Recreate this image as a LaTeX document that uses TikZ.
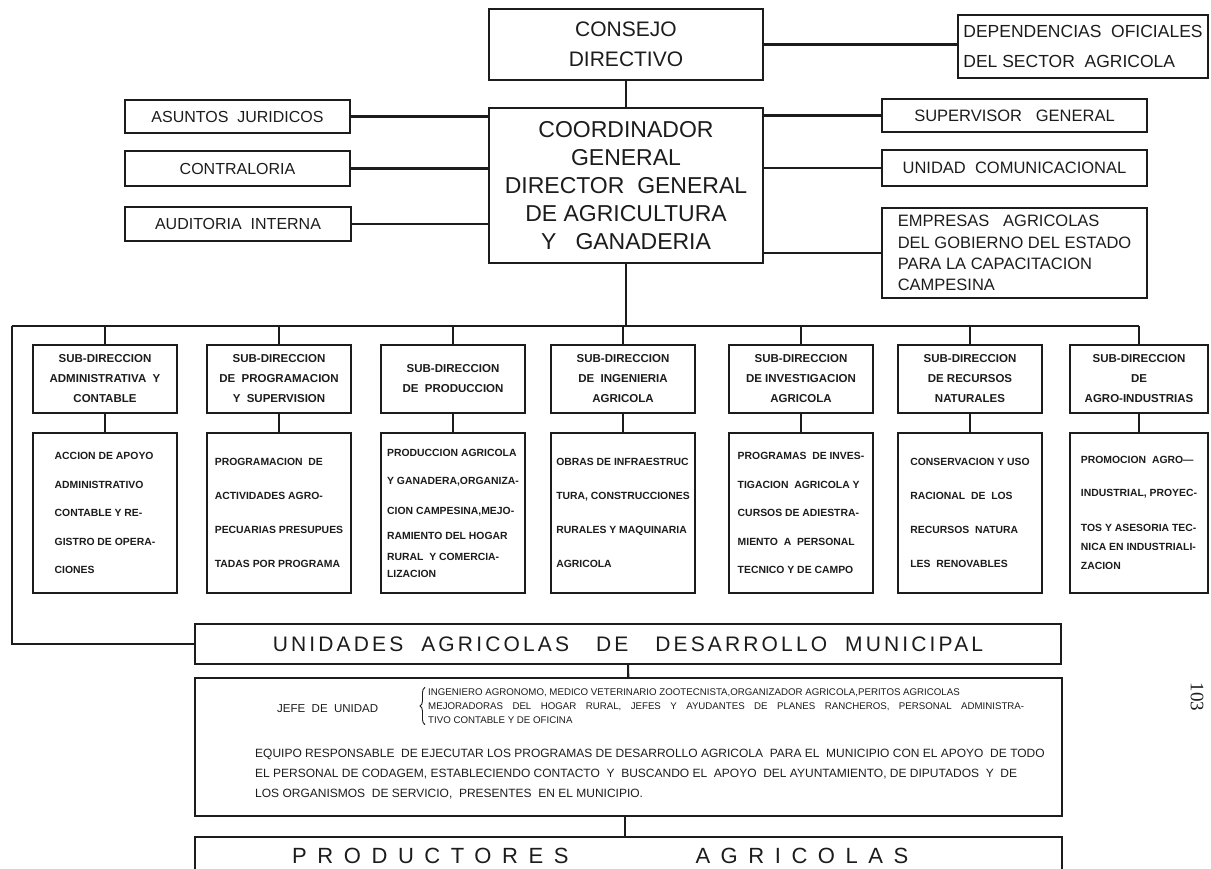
\documentclass[tikz,border=0pt]{standalone}
\usepackage{fontspec}
\setmainfont{Liberation Sans}
\newfontfamily\paginafont{Liberation Serif}
\definecolor{tinta}{RGB}{28, 28, 28}
\usepackage{tikz}
\usetikzlibrary{positioning, decorations.pathreplacing}

\tikzset{
  caja/.style={draw=tinta, line width=2.2pt, inner sep=3pt, align=center, text=tinta},
  subdir/.style={caja, minimum width=144pt, minimum height=68pt, font=\fontsize{11.5}{20}\selectfont\bfseries},
  detalle/.style={caja, minimum width=144pt, minimum height=160pt, align=left, font=\fontsize{10.4}{28.5}\selectfont\bfseries},
  linea/.style={draw=tinta, line width=2.2pt},
}

\begin{document}
\begin{tikzpicture}[x=1pt, y=-1pt]
    \fill[white] (0,0) rectangle (1211,869);
    \useasboundingbox (0,0) rectangle (1211,869);

    % direccion
    \node[caja, minimum width=274pt, minimum height=71pt, font=\fontsize{21}{30}\selectfont] (consejo) at (626,44.5) {CONSEJO\\DIRECTIVO};
    \node[caja, minimum width=250pt, minimum height=63pt, align=left, font=\fontsize{17.5}{30}\selectfont] (dependencias) at (1083,46.5) {DEPENDENCIAS\ \ OFICIALES\\DEL SECTOR\ \ AGRICOLA};
    \node[caja, minimum width=274pt, minimum height=155pt, font=\fontsize{23}{28}\selectfont] (coordinador) at (626,185.5) {COORDINADOR\\GENERAL\\DIRECTOR\ \ GENERAL\\DE AGRICULTURA\\Y\ \ \ GANADERIA};

    \node[caja, minimum width=225pt, minimum height=33pt, font=\fontsize{16}{19}\selectfont] (juridicos)   at (237.5,116.5) {ASUNTOS\ \ JURIDICOS};
    \node[caja, minimum width=225pt, minimum height=35pt, font=\fontsize{16}{19}\selectfont] (contraloria) at (237.5,168.5) {CONTRALORIA};
    \node[caja, minimum width=226pt, minimum height=34pt, font=\fontsize{16}{19}\selectfont] (auditoria)   at (238,224)     {AUDITORIA\ \ INTERNA};

    \node[caja, minimum width=265pt, minimum height=33pt, font=\fontsize{16.5}{19}\selectfont] (supervisor)     at (1014.5,115.5) {SUPERVISOR\ \ \ GENERAL};
    \node[caja, minimum width=265pt, minimum height=36pt, font=\fontsize{16.5}{19}\selectfont] (comunicacional) at (1014.5,168)   {UNIDAD\ \ COMUNICACIONAL};
    \node[caja, minimum width=265pt, minimum height=90pt, align=left, font=\fontsize{16.5}{21.3}\selectfont] (empresas) at (1014.5,253) {EMPRESAS\ \ \ AGRICOLAS\\DEL GOBIERNO DEL ESTADO\\PARA LA CAPACITACION\\CAMPESINA};

    \draw[linea] (consejo.east) -- (consejo.east -| dependencias.west);
    \draw[linea] (consejo) -- (coordinador);
    \draw[linea] (juridicos.east)   -- (juridicos.east -| coordinador.west);
    \draw[linea] (contraloria.east) -- (contraloria.east -| coordinador.west);
    \draw[linea] (auditoria.east)   -- (auditoria.east -| coordinador.west);
    \draw[linea] (supervisor.west)     -- (supervisor.west -| coordinador.east);
    \draw[linea] (comunicacional.west) -- (comunicacional.west -| coordinador.east);
    \draw[linea] (empresas.west)       -- (empresas.west -| coordinador.east);

    % sub-direcciones
    \coordinate (barraL) at (12,326);
    \coordinate (barraR) at (1139,326);
    \draw[linea] (coordinador.south) -- (coordinador.south |- barraL);
    \draw[linea] (barraL) -- (barraR);

    \node[subdir] (sub1) at (105,379)  {SUB-DIRECCION\\ADMINISTRATIVA\ \ Y\\CONTABLE};
    \node[subdir] (sub2) at (279,379)  {SUB-DIRECCION\\DE\ \ PROGRAMACION\\Y\ \ SUPERVISION};
    \node[subdir] (sub3) at (453,379)  {SUB-DIRECCION\\DE\ \ PRODUCCION};
    \node[subdir] (sub4) at (623,379)  {SUB-DIRECCION\\DE\ \ INGENIERIA\\AGRICOLA};
    \node[subdir] (sub5) at (801,379)  {SUB-DIRECCION\\DE INVESTIGACION\\AGRICOLA};
    \node[subdir] (sub6) at (970,379)  {SUB-DIRECCION\\DE RECURSOS\\NATURALES};
    \node[subdir, minimum width=138pt] (sub7) at (1139,379) {SUB-DIRECCION\\DE\\AGRO-INDUSTRIAS};

    \node[detalle] (det1) at (105,513) {ACCION DE APOYO\\ADMINISTRATIVO\\CONTABLE Y RE-\\GISTRO DE OPERA-\\CIONES};
    \node[detalle, font=\fontsize{10.4}{34}\selectfont\bfseries] (det2) at (279,513) {PROGRAMACION\ \ DE\\ACTIVIDADES AGRO-\\PECUARIAS PRESUPUES\\TADAS POR PROGRAMA};
    \node[detalle, font=\fontsize{10.4}{17}\selectfont\bfseries] (det3) at (453,513) {PRODUCCION AGRICOLA\\[11pt]Y GANADERA,ORGANIZA-\\[13pt]CION CAMPESINA,MEJO-\\[8pt]RAMIENTO DEL HOGAR\\[4pt]RURAL\ \ Y COMERCIA-\\LIZACION};
    \node[detalle, font=\fontsize{10.4}{34}\selectfont\bfseries] (det4) at (623,513) {OBRAS DE INFRAESTRUC\\TURA, CONSTRUCCIONES\\RURALES Y MAQUINARIA\\AGRICOLA};
    \node[detalle] (det5) at (801,513) {PROGRAMAS\ \ DE INVES-\\TIGACION\ \ AGRICOLA Y\\CURSOS DE ADIESTRA-\\MIENTO\ \ A\ \ PERSONAL\\TECNICO Y DE CAMPO};
    \node[detalle, font=\fontsize{10.4}{34}\selectfont\bfseries] (det6) at (970,513) {CONSERVACION Y USO\\RACIONAL\ \ DE\ \ LOS\\RECURSOS\ \ NATURA\\LES\ \ RENOVABLES};
    \node[detalle, minimum width=138pt, font=\fontsize{10.4}{19}\selectfont\bfseries] (det7) at (1139,513) {PROMOCION\ \ AGRO---\\[14pt]INDUSTRIAL, PROYEC-\\[16pt]TOS Y ASESORIA TEC-\\NICA EN INDUSTRIALI-\\ZACION};

    \draw[linea] (sub1.north |- barraL) -- (sub1.north);
    \draw[linea] (sub2.north |- barraL) -- (sub2.north);
    \draw[linea] (sub3.north |- barraL) -- (sub3.north);
    \draw[linea] (sub4.north |- barraL) -- (sub4.north);
    \draw[linea] (sub5.north |- barraL) -- (sub5.north);
    \draw[linea] (sub6.north |- barraL) -- (sub6.north);
    \draw[linea] (sub7.north |- barraL) -- (sub7.north);
    \draw[linea] (sub1) -- (det1);
    \draw[linea] (sub2) -- (det2);
    \draw[linea] (sub3) -- (det3);
    \draw[linea] (sub4) -- (det4);
    \draw[linea] (sub5) -- (det5);
    \draw[linea] (sub6) -- (det6);
    \draw[linea] (sub7) -- (det7);

    % unidades municipales
    \node[caja, align=none, minimum width=866pt, minimum height=40pt, font={\fontsize{21}{24}\selectfont\addfontfeature{LetterSpace=15}}] (unidades) at (628,644) {UNIDADES\ \ AGRICOLAS\ \ \ DE\ \ \ DESARROLLO\ \ MUNICIPAL\hspace{-34pt}};
    \draw[linea] (barraL) |- (unidades.west);

    \node[caja, minimum width=867pt, minimum height=138pt] (jefebox) at (628.5,747) {};
    \draw[linea] (unidades) -- (jefebox);
    \node[anchor=base west, inner sep=0pt, text=tinta, font=\fontsize{11.5}{14}\selectfont] (jefe) at (277,712) {JEFE\ \ DE\ \ UNIDAD};
    \node[anchor=west, inner sep=0pt, align=left, text=tinta, font=\fontsize{9.7}{14}\selectfont] (perfiles) at (428,706) {INGENIERO AGRONOMO, MEDICO VETERINARIO ZOOTECNISTA,ORGANIZADOR AGRICOLA,PERITOS AGRICOLAS\\\makebox[596pt][s]{MEJORADORAS DEL HOGAR RURAL, JEFES Y AYUDANTES DE PLANES RANCHEROS, PERSONAL ADMINISTRA-}\\TIVO CONTABLE Y DE OFICINA};
    \draw[draw=tinta, line width=0.9pt, decorate, decoration={brace, amplitude=5pt}] ([xshift=-3pt, yshift=-1pt]perfiles.south west) -- ([xshift=-3pt, yshift=1pt]perfiles.north west);
    \node[anchor=west, inner sep=0pt, align=left, text=tinta, font=\fontsize{12}{20}\selectfont] (equipo) at (255,774) {EQUIPO RESPONSABLE\ \ DE EJECUTAR LOS PROGRAMAS DE DESARROLLO AGRICOLA\ \ PARA EL\ \ MUNICIPIO CON EL APOYO\ \ DE TODO\\EL PERSONAL DE CODAGEM, ESTABLECIENDO CONTACTO\ \ Y\ \ BUSCANDO EL\ \ APOYO\ \ DEL AYUNTAMIENTO, DE DIPUTADOS\ \ Y\ \ DE\\LOS ORGANISMOS\ \ DE SERVICIO,\ \ PRESENTES\ \ EN EL MUNICIPIO.};

    \node[caja, minimum width=867pt, minimum height=53pt] (productores) at (628.5,863.5) {};
    \draw[linea] (jefebox.south -| 625,0) -- (productores.north -| 625,0);
    \node[anchor=base west, inner sep=0pt, text=tinta, font={\fontsize{22}{24}\selectfont\addfontfeature{LetterSpace=48}}] (prodtexto) at (292,863) {PRODUCTORES\hspace{127pt}AGRICOLAS};

    \node[rotate=-90, text=tinta, font=\paginafont\fontsize{19}{19}\selectfont] (pagina) at (1197,697) {103};
\end{tikzpicture}
\end{document}
